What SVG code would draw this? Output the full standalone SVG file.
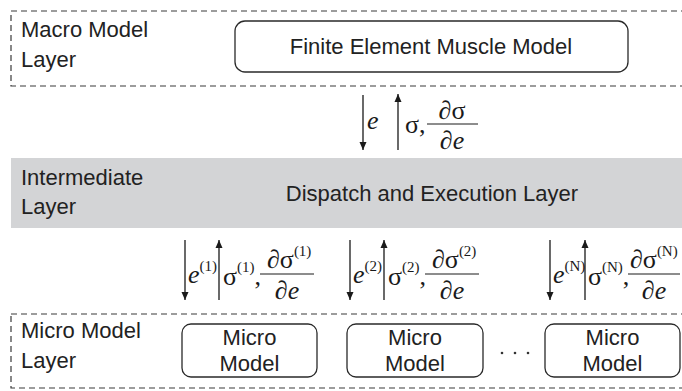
<svg xmlns="http://www.w3.org/2000/svg" width="682" height="391" viewBox="0 0 682 391">
<defs>
<marker id="ah" viewBox="0 0 8 10" refX="8" refY="5" markerWidth="8" markerHeight="10" markerUnits="userSpaceOnUse" orient="auto">
<path d="M0,1.5 L8,5 L0,8.5 Z" fill="#1a1a1a"/>
</marker>
<style>
.dash{fill:none;stroke:#3a3a3a;stroke-width:1.2;stroke-dasharray:6 4}
.box{fill:#fff;stroke:#2a2a2a;stroke-width:1.3}
.lbl{font-family:"Liberation Sans",Arial,sans-serif;font-size:22px;fill:#222}
.ctr{text-anchor:middle}
.m{font-family:"Liberation Serif","Times New Roman",serif;font-size:26px;fill:#1a1a1a}
.i{font-style:italic}
.sup{font-size:15px;font-style:normal}
.arr{stroke:#1a1a1a;stroke-width:1.3;fill:none;marker-end:url(#ah)}
.bar{stroke:#1a1a1a;stroke-width:1}
</style>
</defs>
<rect width="682" height="391" fill="#fff"/>

<g id="macro-layer">
<rect class="dash" x="11" y="11" width="675" height="75"/>
<text class="lbl" x="21" y="37">Macro Model</text>
<text class="lbl" x="21" y="67">Layer</text>
</g>
<g id="fem">
<rect class="box" x="235" y="21" width="393" height="51" rx="10"/>
<text class="lbl ctr" x="431" y="54">Finite Element Muscle Model</text>
</g>

<g id="intermediate-layer">
<rect x="11" y="158" width="673" height="70" fill="#d3d4d6"/>
<text class="lbl" x="21" y="185">Intermediate</text>
<text class="lbl" x="21" y="214">Layer</text>
<text class="lbl ctr" x="432" y="201">Dispatch and Execution Layer</text>
</g>

<g id="micro-layer">
<rect class="dash" x="11" y="314" width="675" height="74"/>
<text class="lbl" x="21" y="338">Micro Model</text>
<text class="lbl" x="21" y="368">Layer</text>
</g>
<g id="micro1">
<rect class="box" x="182" y="324" width="135" height="53" rx="9"/>
<text class="lbl ctr" x="249.5" y="345">Micro</text>
<text class="lbl ctr" x="249.5" y="371">Model</text>
</g>
<g id="micro2">
<rect class="box" x="347" y="324" width="136" height="53" rx="9"/>
<text class="lbl ctr" x="415" y="345">Micro</text>
<text class="lbl ctr" x="415" y="371">Model</text>
</g>
<g id="dots">
<circle cx="502" cy="353" r="1.3" fill="#333"/>
<circle cx="515" cy="353" r="1.3" fill="#333"/>
<circle cx="528" cy="353" r="1.3" fill="#333"/>
</g>
<g id="microN">
<rect class="box" x="545" y="324" width="135" height="53" rx="9"/>
<text class="lbl ctr" x="612.5" y="345">Micro</text>
<text class="lbl ctr" x="612.5" y="371">Model</text>
</g>

<g id="connectors">
<line class="arr" x1="363" y1="95" x2="363" y2="150"/>
<line class="arr" x1="398" y1="150" x2="398" y2="94"/>
<line class="arr" x1="185" y1="240" x2="185" y2="300"/>
<line class="arr" x1="219" y1="300" x2="219" y2="240"/>
<line class="arr" x1="350" y1="240" x2="350" y2="300"/>
<line class="arr" x1="384" y1="300" x2="384" y2="240"/>
<line class="arr" x1="550" y1="240" x2="550" y2="300"/>
<line class="arr" x1="585" y1="300" x2="585" y2="240"/>

<g id="lbl-top">
<text class="m i" x="367" y="129">e</text>
<text class="m" x="405" y="133">σ,</text>
<line class="bar" x1="427" y1="124" x2="478" y2="124"/>
<text class="m ctr" x="452" y="119"><tspan class="i">∂</tspan>σ</text>
<text class="m i ctr" x="452" y="149">∂e</text>
</g>

<g id="lbl-1">
<text class="m i" x="188" y="283">e<tspan class="sup" dy="-12">(1)</tspan></text>
<text class="m" x="223" y="285">σ<tspan class="sup" dy="-13">(1)</tspan><tspan dy="13">,</tspan></text>
<line class="bar" x1="260" y1="274" x2="314" y2="274"/>
<text class="m" x="267" y="268"><tspan class="i">∂</tspan>σ<tspan class="sup" dy="-12">(1)</tspan></text>
<text class="m i ctr" x="287" y="299">∂e</text>
</g>

<g id="lbl-2">
<text class="m i" x="353" y="283">e<tspan class="sup" dy="-12">(2)</tspan></text>
<text class="m" x="388" y="285">σ<tspan class="sup" dy="-13">(2)</tspan><tspan dy="13">,</tspan></text>
<line class="bar" x1="425" y1="274" x2="479" y2="274"/>
<text class="m" x="432" y="268"><tspan class="i">∂</tspan>σ<tspan class="sup" dy="-12">(2)</tspan></text>
<text class="m i ctr" x="452" y="299">∂e</text>
</g>

<g id="lbl-N">
<text class="m i" x="553" y="283">e<tspan class="sup" dy="-12">(N)</tspan></text>
<text class="m" x="588" y="285">σ<tspan class="sup" dy="-13">(N)</tspan><tspan dy="13">,</tspan></text>
<line class="bar" x1="628" y1="274" x2="680" y2="274"/>
<text class="m" x="630" y="268"><tspan class="i">∂</tspan>σ<tspan class="sup" dy="-12">(N)</tspan></text>
<text class="m i ctr" x="654" y="299">∂e</text>
</g>
</g>
</svg>
